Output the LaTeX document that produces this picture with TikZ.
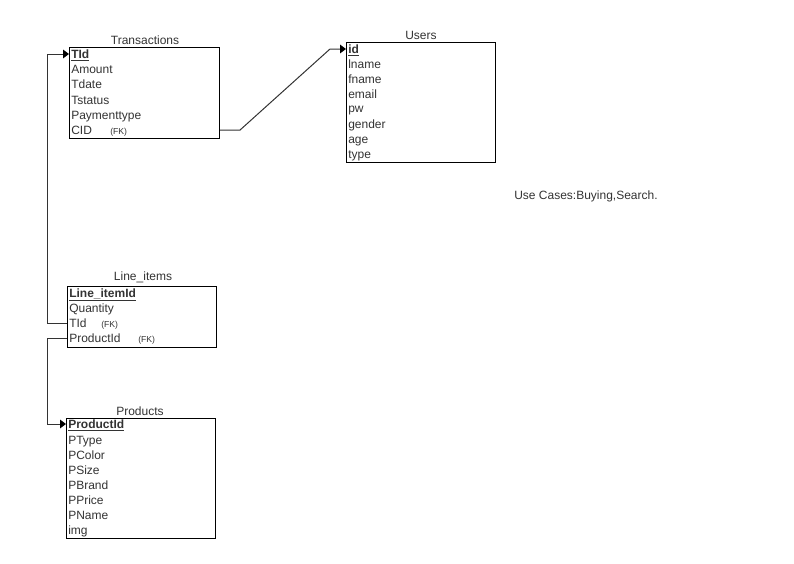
\documentclass[tikz,border=0pt]{standalone}
\usepackage{fontspec}
\setmainfont{Liberation Sans}
\usetikzlibrary{arrows.meta}
\definecolor{ink}{HTML}{333333}
\tikzset{
  tbl/.style={draw=black, line width=0.8pt, rectangle, inner sep=0pt, anchor=north west},
  title/.style={text=ink, inner sep=0pt, anchor=base, font=\fontsize{9pt}{10pt}\selectfont},
  row/.style={text=ink, inner sep=0pt, anchor=west, text height=7pt, text depth=1pt,
              font=\fontsize{9pt}{10pt}\selectfont},
  fk/.style={text=ink, inner sep=0pt, anchor=west, text height=7pt, text depth=1pt,
             font=\fontsize{6.5pt}{7.5pt}\selectfont},
  conn/.style={draw=ink, line width=0.75pt},
  rel/.style={conn, -{Triangle[length=4.5pt,width=6.5pt,color=black,fill=black]}},
}
\newcommand{\keyattr}[1]{\underline{\textbf{#1}}}
\begin{document}
\begin{tikzpicture}[x=0.75pt, y=-0.75pt]
\useasboundingbox (0,0) rectangle (794,564);

% Transactions
\node[tbl, minimum width=112.5pt, minimum height=68.25pt] (tr) at (69,47) {};
\node[title] (tr-title) at (145,45) {Transactions};
\node[row] (tr-tid) at (71,54) {\keyattr{TId}};
\node[row] (tr-amount) at (71,70) {Amount};
\node[row] (tr-tdate) at (71,85) {Tdate};
\node[row] (tr-tstatus) at (71,100) {Tstatus};
\node[row] (tr-pay) at (71,115) {Paymenttype};
\node[row] (tr-cid) at (71,130) {CID};
\node[fk] (tr-cidfk) at (110,130) {(FK)};

% Users
\node[tbl, minimum width=111.75pt, minimum height=90pt] (us) at (346,42) {};
\node[title] (us-title) at (421,39) {Users};
\node[row] (us-id) at (348,49) {\keyattr{id}};
\node[row] (us-lname) at (348,64) {lname};
\node[row] (us-fname) at (348,79) {fname};
\node[row] (us-email) at (348,94) {email};
\node[row] (us-pw) at (348,109) {pw};
\node[row] (us-gender) at (348,124) {gender};
\node[row] (us-age) at (348,139) {age};
\node[row] (us-type) at (348,154) {type};

% Line_items
\node[tbl, minimum width=111.75pt, minimum height=45.75pt] (li) at (67,286) {};
\node[title] (li-title) at (143,280) {Line\_items};
\node[row] (li-id) at (69,293) {\keyattr{Line\_itemId}};
\node[row] (li-qty) at (69,308) {Quantity};
\node[row] (li-tid) at (69,323) {TId};
\node[fk] (li-tidfk) at (101,323) {(FK)};
\node[row] (li-pid) at (69,338) {ProductId};
\node[fk] (li-pidfk) at (138,338) {(FK)};

% Products
\node[tbl, minimum width=111.75pt, minimum height=90pt] (pr) at (66,418) {};
\node[title] (pr-title) at (140,415) {Products};
\node[row] (pr-pid) at (68,424) {\keyattr{ProductId}};
\node[row] (pr-ptype) at (68,440) {PType};
\node[row] (pr-pcolor) at (68,455) {PColor};
\node[row] (pr-psize) at (68,470) {PSize};
\node[row] (pr-pbrand) at (68,485) {PBrand};
\node[row] (pr-pprice) at (68,500) {PPrice};
\node[row] (pr-pname) at (68,515) {PName};
\node[row] (pr-img) at (68,530) {img};

% Note
\node[row] (note) at (514,195) {Use Cases:Buying,Search.};

% Relationships
\draw[rel] (li.west |- li-tid) -- ++(-20,0) |- (tr.west |- tr-tid);
\draw[rel] (tr.east |- tr-cid) -- ++(20,0) -- ([xshift=-12pt]us.west |- us-id) -- (us.west |- us-id);
\draw[rel] (li.west |- li-pid) -- ++(-20,0) |- (pr.west |- pr-pid);
\end{tikzpicture}
\end{document}
